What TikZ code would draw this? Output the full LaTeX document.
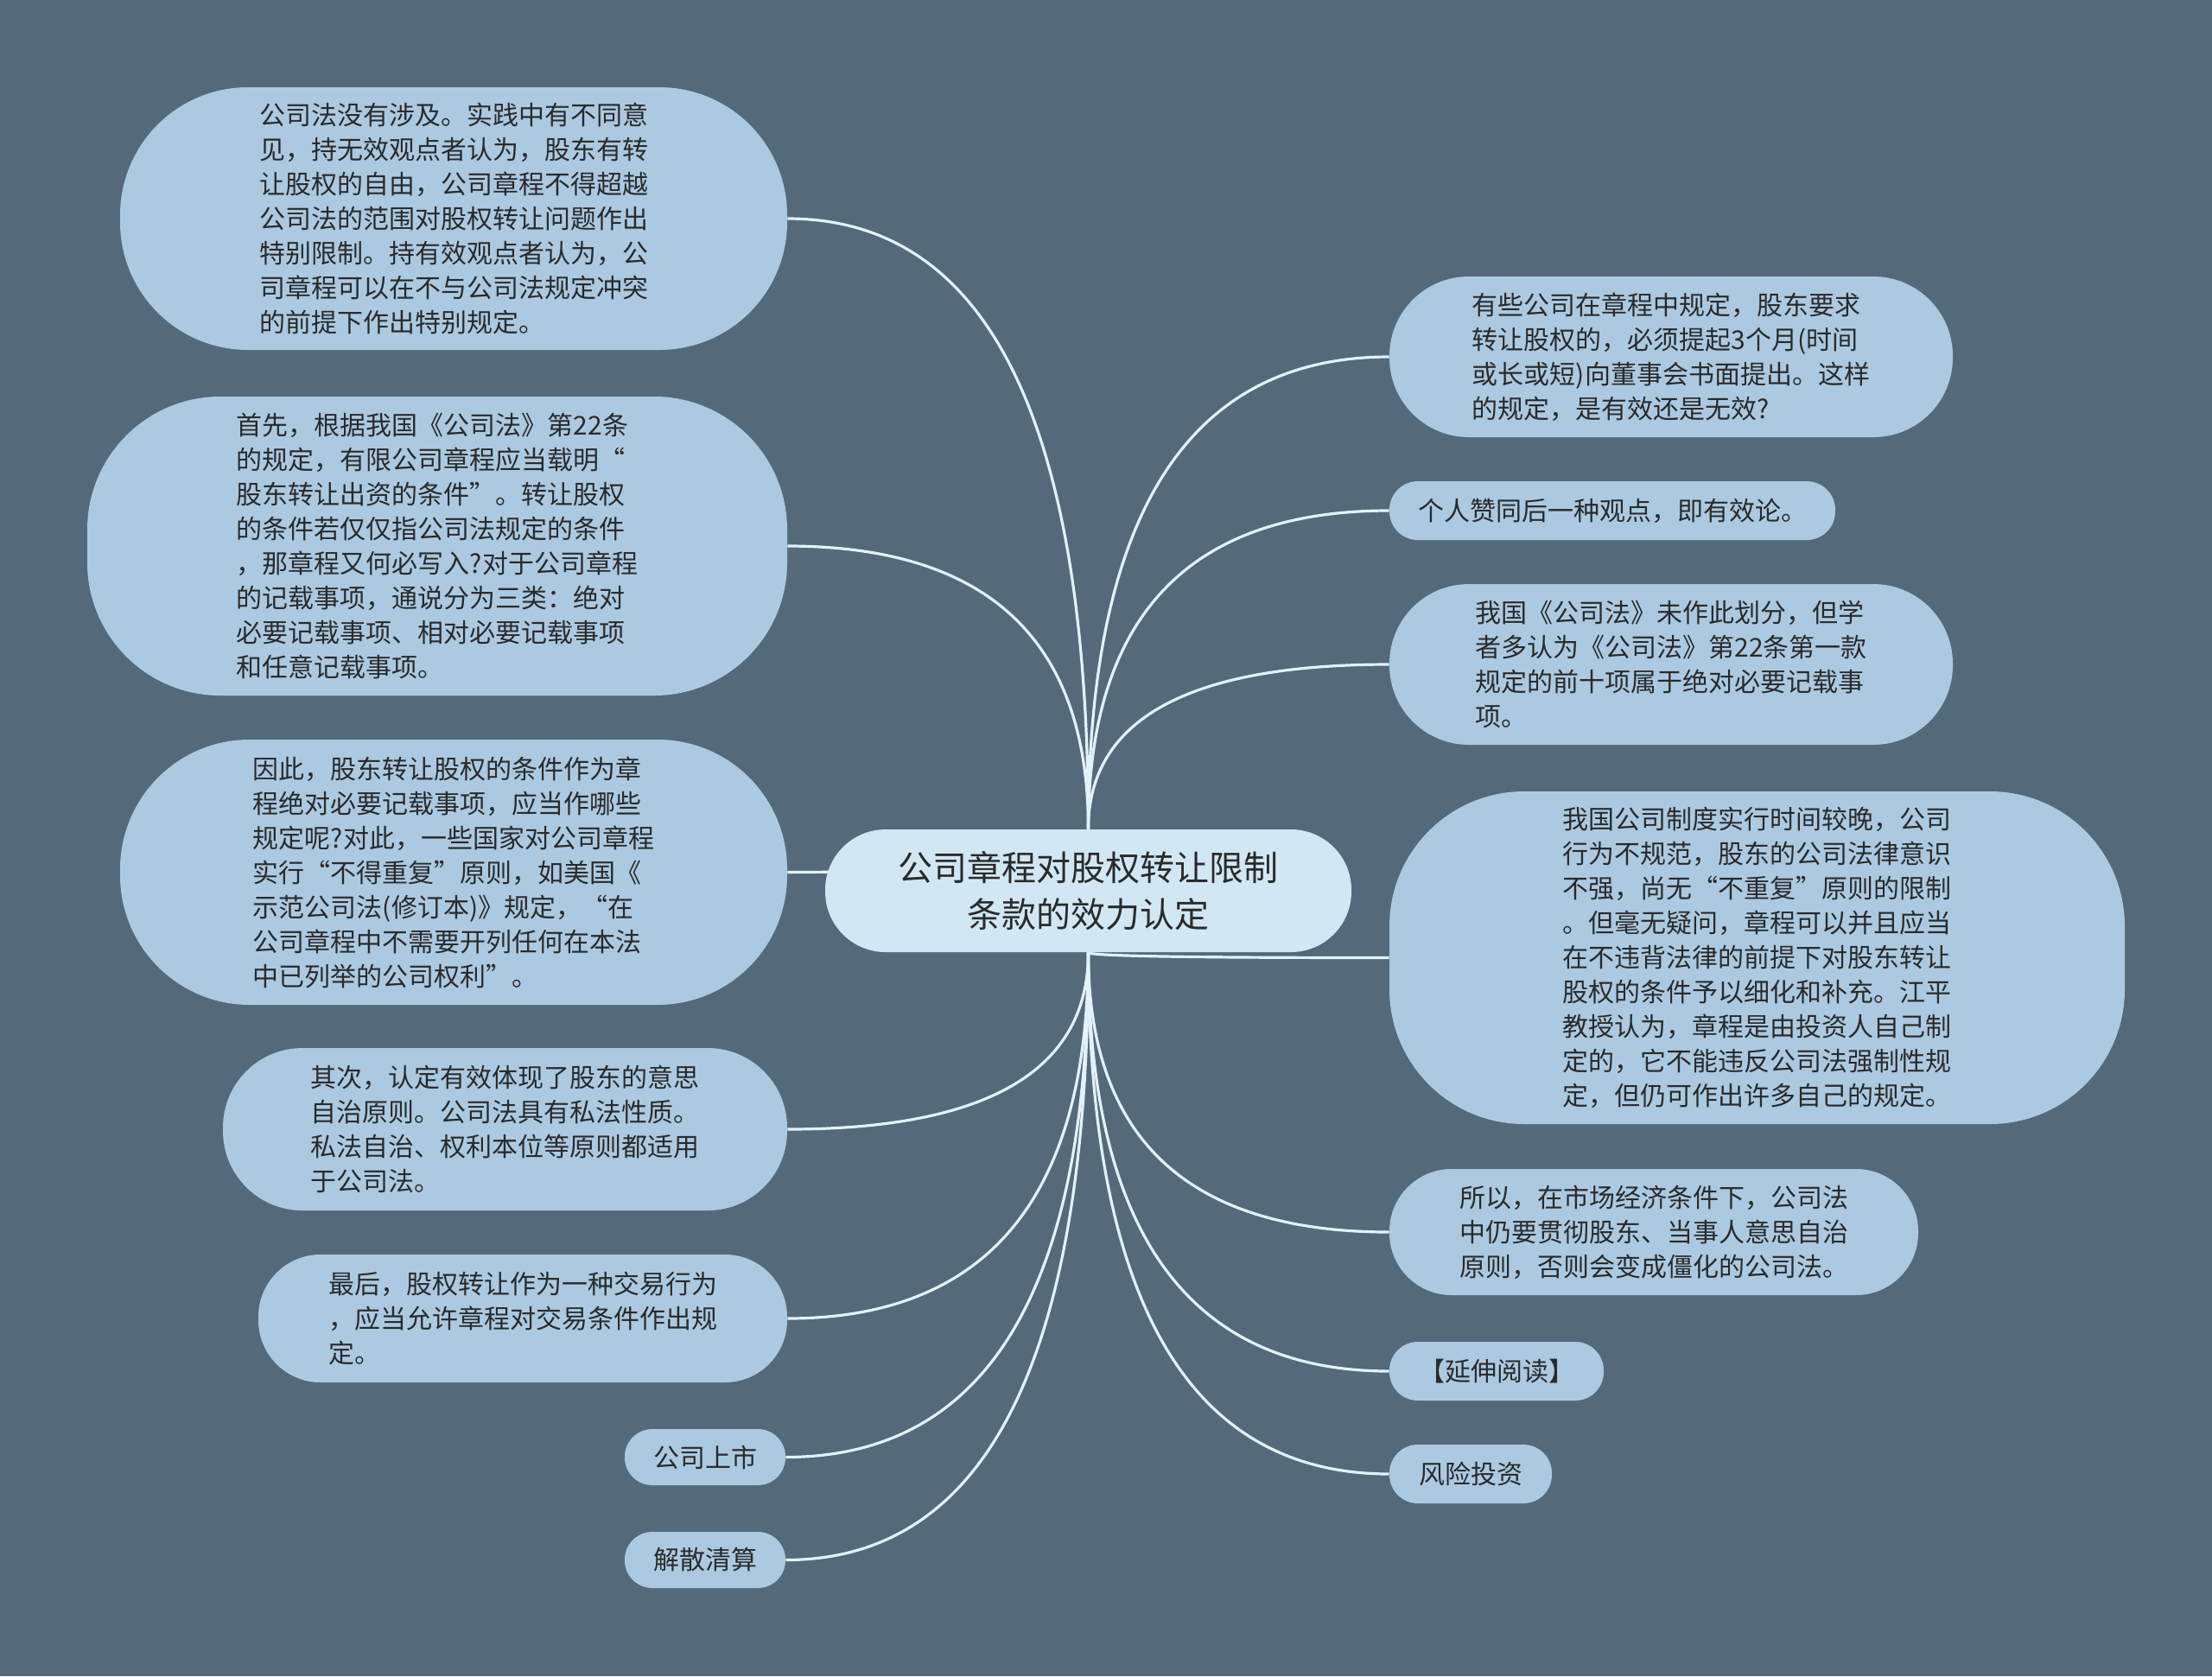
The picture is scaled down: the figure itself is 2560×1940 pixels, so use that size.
\documentclass[tikz,border=0pt]{standalone}
\usepackage{fontspec}
\setmainfont{Noto Sans CJK SC}
\usetikzlibrary{calc}
\definecolor{bgc}{HTML}{546A7B}
\definecolor{nodec}{HTML}{ABCAE1}
\definecolor{ctrc}{HTML}{D1E7F4}
\definecolor{linkc}{HTML}{E2F2FA}
\definecolor{txtc}{HTML}{2A2A2A}
\pgfdeclarelayer{bg}
\pgfdeclarelayer{edges}
\pgfsetlayers{bg,edges,main}
\newcommand\mmlink[2]{%
  \coordinate (mmk) at (#1 |- #2);
  \draw[link] (#1) .. controls ($(#1)!0.667!(mmk)$) and ($(#2)!0.667!(mmk)$) .. (#2);}
\tikzset{
  bubble/.style={fill=nodec, text=txtc, inner sep=0pt, align=left,
    font=\fontsize{15pt}{20pt}\selectfont},
  centre/.style={fill=ctrc, text=txtc, inner sep=0pt, align=center,
    font=\fontsize{20pt}{27pt}\selectfont},
  link/.style={draw=linkc, line width=1.6pt}
}
\begin{document}
\begin{tikzpicture}[x=0.5pt,y=-0.5pt]
\begin{pgfonlayer}{bg}
  \fill[bgc] (0,0) rectangle (2560,1940);
\end{pgfonlayer}
\useasboundingbox (0,0) rectangle (2560,1940);

% centre
\node[centre, minimum width=304.5pt, minimum height=71pt, rounded corners=35pt] (ctr) at (1259.5,1031)
  {公司章程对股权转让限制\\条款的效力认定};

% left side
\node[bubble, minimum width=386pt, minimum height=152pt, rounded corners=74pt] (L1) at (525,253)
  {公司法没有涉及。实践中有不同意\\见，持无效观点者认为，股东有转\\让股权的自由，公司章程不得超越\\公司法的范围对股权转让问题作出\\特别限制。持有效观点者认为，公\\司章程可以在不与公司法规定冲突\\的前提下作出特别规定。};
\node[bubble, minimum width=405pt, minimum height=173pt, rounded corners=77pt] (L2) at (506,632)
  {首先，根据我国《公司法》第22条\\的规定，有限公司章程应当载明“\\股东转让出资的条件”。转让股权\\的条件若仅仅指公司法规定的条件\\，那章程又何必写入?对于公司章程\\的记载事项，通说分为三类：绝对\\必要记载事项、相对必要记载事项\\和任意记载事项。};
\node[bubble, minimum width=386pt, minimum height=153.5pt, rounded corners=75pt] (L3) at (525,1009.5)
  {因此，股东转让股权的条件作为章\\程绝对必要记载事项，应当作哪些\\规定呢?对此，一些国家对公司章程\\实行“不得重复”原则，如美国《\\示范公司法(修订本)》规定，“在\\公司章程中不需要开列任何在本法\\中已列举的公司权利”。};
\node[bubble, minimum width=326.5pt, minimum height=94pt, rounded corners=46pt] (L4) at (584.5,1307)
  {其次，认定有效体现了股东的意思\\自治原则。公司法具有私法性质。\\私法自治、权利本位等原则都适用\\于公司法。};
\node[bubble, minimum width=306pt, minimum height=74pt, rounded corners=36pt] (L5) at (605,1526)
  {最后，股权转让作为一种交易行为\\，应当允许章程对交易条件作出规\\定。};
\node[bubble, minimum width=93pt, minimum height=32.5pt, rounded corners=16pt] (L6) at (816,1686.5)
  {公司上市};
\node[bubble, minimum width=93pt, minimum height=32.5pt, rounded corners=16pt] (L7) at (816,1805.5)
  {解散清算};

% right side
\node[bubble, minimum width=326pt, minimum height=93pt, rounded corners=46pt] (R1) at (1934,413)
  {有些公司在章程中规定，股东要求\\转让股权的，必须提起3个月(时间\\或长或短)向董事会书面提出。这样\\的规定，是有效还是无效?};
\node[bubble, minimum width=258pt, minimum height=34pt, rounded corners=16.5pt] (R2) at (1866,591)
  {个人赞同后一种观点，即有效论。};
\node[bubble, minimum width=326pt, minimum height=93pt, rounded corners=46pt] (R3) at (1934,769)
  {我国《公司法》未作此划分，但学\\者多认为《公司法》第22条第一款\\规定的前十项属于绝对必要记载事\\项。};
\node[bubble, minimum width=425.5pt, minimum height=192.5pt, rounded corners=78pt] (R4) at (2033.5,1108.5)
  {我国公司制度实行时间较晚，公司\\行为不规范，股东的公司法律意识\\不强，尚无“不重复”原则的限制\\。但毫无疑问，章程可以并且应当\\在不违背法律的前提下对股东转让\\股权的条件予以细化和补充。江平\\教授认为，章程是由投资人自己制\\定的，它不能违反公司法强制性规\\定，但仍可作出许多自己的规定。};
\node[bubble, minimum width=306pt, minimum height=73pt, rounded corners=36pt] (R5) at (1914,1426)
  {所以，在市场经济条件下，公司法\\中仍要贯彻股东、当事人意思自治\\原则，否则会变成僵化的公司法。};
\node[bubble, minimum width=124pt, minimum height=34pt, rounded corners=16.5pt] (R6) at (1732,1587)
  {【延伸阅读】};
\node[bubble, minimum width=94pt, minimum height=34pt, rounded corners=16.5pt] (R7) at (1702,1706)
  {风险投资};

\begin{pgfonlayer}{edges}
  \mmlink{ctr.north}{L1.east}
  \mmlink{ctr.north}{L2.east}
  \mmlink{ctr.north}{L3.east}
  \mmlink{ctr.south}{L4.east}
  \mmlink{ctr.south}{L5.east}
  \mmlink{ctr.south}{L6.east}
  \mmlink{ctr.south}{L7.east}
  \mmlink{ctr.north}{R1.west}
  \mmlink{ctr.north}{R2.west}
  \mmlink{ctr.north}{R3.west}
  \mmlink{ctr.south}{R4.west}
  \mmlink{ctr.south}{R5.west}
  \mmlink{ctr.south}{R6.west}
  \mmlink{ctr.south}{R7.west}
\end{pgfonlayer}
\end{tikzpicture}
\end{document}
